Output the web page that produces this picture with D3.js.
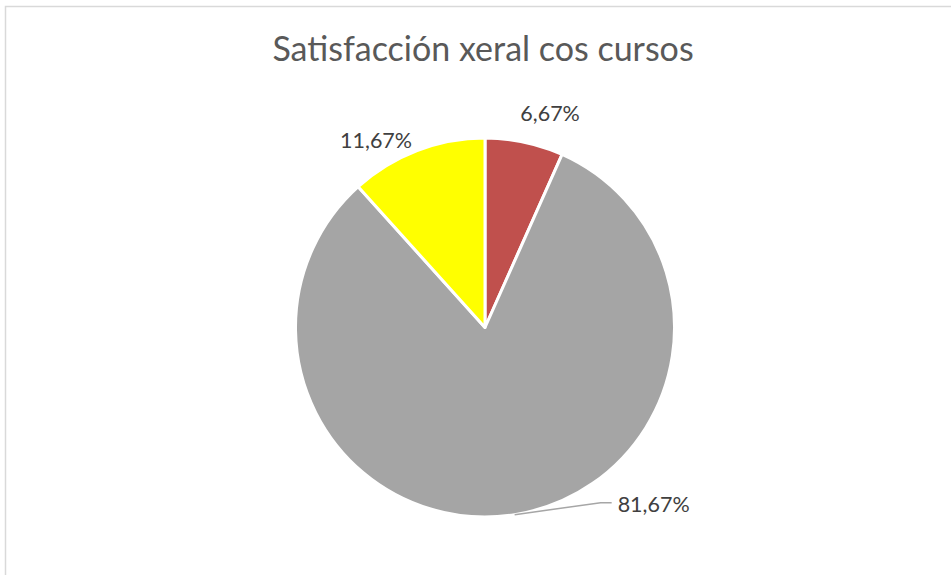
<!DOCTYPE html>
<html>
<head>
<meta charset="utf-8">
<script src="https://cdn.jsdelivr.net/npm/d3@7/dist/d3.min.js"></script>
<style>
  html, body { margin: 0; padding: 0; background: #fff; }
  svg { display: block; }
</style>
</head>
<body>
<div id="chart"></div>
<script>
// values as shown on the chart
const categories = ["Pouco satisfeito", "Moi satisfeito", "Satisfeito"];
const values = [6.67, 81.67, 11.67];
const labels = ["6,67%", "81,67%", "11,67%"];
const colors = ["#C0504D", "#A5A5A5", "#FFFF00"];
const title = "Satisfacción xeral cos cursos";

const width = 951, height = 575;
const cx = 485, cy = 327.5, radius = 189.5;

const svg = d3.select("#chart")
  .append("svg")
  .attr("width", width)
  .attr("height", height);

// chart frame (runs off the right and bottom edges)
svg.append("rect")
  .attr("x", 5.5)
  .attr("y", 6.5)
  .attr("width", width + 20)
  .attr("height", height + 20)
  .attr("fill", "#fff")
  .attr("stroke", "#d9d9d9")
  .attr("stroke-width", 1.5);

svg.append("text")
  .attr("x", 483)
  .attr("y", 61)
  .attr("text-anchor", "middle")
  .style("font-family", "Lato, 'Open Sans', sans-serif")
  .style("font-size", "34px")
  .style("fill", "#595959")
  .text(title);

const data = categories.map((c, i) => ({ name: c, value: values[i], label: labels[i], color: colors[i] }));

const pie = d3.pie().sort(null).value(d => d.value);
const arc = d3.arc().innerRadius(0).outerRadius(radius);
const arcs = pie(data);

const g = svg.append("g").attr("transform", `translate(${cx},${cy})`);

g.selectAll("path.slice")
  .data(arcs)
  .join("path")
  .attr("class", "slice")
  .attr("d", arc)
  .attr("fill", d => d.data.color)
  .attr("stroke", "#fff")
  .attr("stroke-width", 3)
  .attr("stroke-linejoin", "round");

// labels: point just outside the rim on each slice's mid angle
const midAngle = d => (d.startAngle + d.endAngle) / 2;
const rimPoint = (d, r) => [Math.sin(midAngle(d)) * r, -Math.cos(midAngle(d)) * r];

const labelFont = "Lato, 'Open Sans', sans-serif";

arcs.forEach(d => {
  const a = midAngle(d);
  if (d.data.value > 50) {
    // big slice: leader line out to the right
    const p0 = rimPoint(d, radius);
    const p1 = [p0[0] + 86, p0[1] - 12];
    const p2 = [p1[0] + 11, p1[1]];
    g.append("polyline")
      .attr("points", [p0, p1, p2].map(p => p.join(",")).join(" "))
      .attr("fill", "none")
      .attr("stroke", "#A6A6A6")
      .attr("stroke-width", 1.5);
    g.append("text")
      .attr("x", p2[0] + 6)
      .attr("y", p2[1] + 1)
      .attr("text-anchor", "start")
      .attr("dominant-baseline", "central")
      .style("font-family", labelFont)
      .style("font-size", "21.5px")
      .style("fill", "#404040")
      .text(d.data.label);
  } else {
    const p = rimPoint(d, radius + 14);
    const right = Math.sin(a) >= 0;
    g.append("text")
      .attr("x", p[0] + (right ? -7 : 0))
      .attr("y", p[1] + (right ? -15 : 2))
      .attr("text-anchor", right ? "start" : "end")
      .attr("dominant-baseline", "central")
      .style("font-family", labelFont)
      .style("font-size", "21.5px")
      .style("fill", "#404040")
      .text(d.data.label);
  }
});
</script>
</body>
</html>
